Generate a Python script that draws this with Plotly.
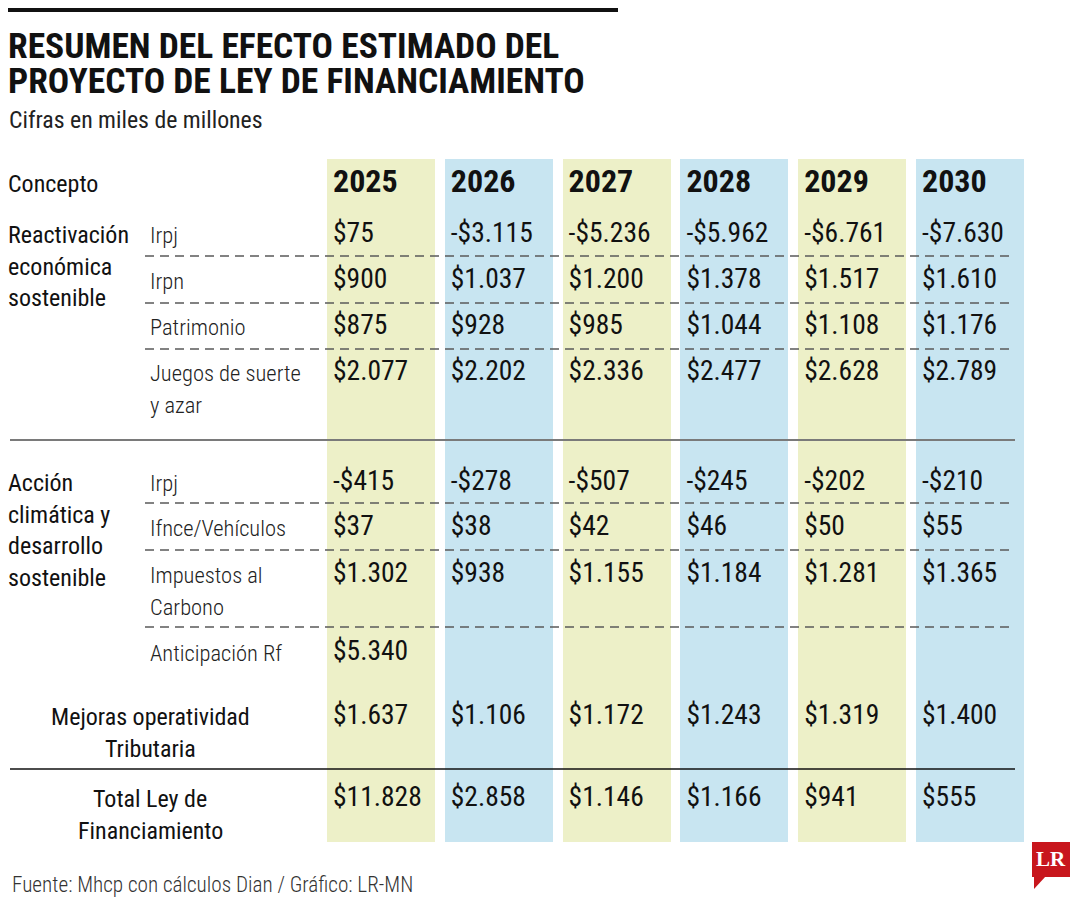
import plotly.graph_objects as go

# ---------------- data ----------------
years = ["2025", "2026", "2027", "2028", "2029", "2030"]

group_labels = ["Reactivación<br>económica<br>sostenible",
                "Acción<br>climática y<br>desarrollo<br>sostenible"]

row_labels = ["Irpj", "Irpn", "Patrimonio", "Juegos de suerte<br>y azar",
              "Irpj", "Ifnce/Vehículos", "Impuestos al<br>Carbono", "Anticipación Rf",
              "Mejoras operatividad<br>Tributaria", "Total Ley de<br>Financiamiento"]

values = [
    ["$75", "-$3.115", "-$5.236", "-$5.962", "-$6.761", "-$7.630"],
    ["$900", "$1.037", "$1.200", "$1.378", "$1.517", "$1.610"],
    ["$875", "$928", "$985", "$1.044", "$1.108", "$1.176"],
    ["$2.077", "$2.202", "$2.336", "$2.477", "$2.628", "$2.789"],
    ["-$415", "-$278", "-$507", "-$245", "-$202", "-$210"],
    ["$37", "$38", "$42", "$46", "$50", "$55"],
    ["$1.302", "$938", "$1.155", "$1.184", "$1.281", "$1.365"],
    ["$5.340", "", "", "", "", ""],
    ["$1.637", "$1.106", "$1.172", "$1.243", "$1.319", "$1.400"],
    ["$11.828", "$2.858", "$1.146", "$1.166", "$941", "$555"],
]

title_lines = ["RESUMEN DEL EFECTO ESTIMADO DEL", "PROYECTO DE LEY DE FINANCIAMIENTO"]
subtitle = "Cifras en miles de millones"
source = "Fuente: Mhcp con cálculos Dian / Gráfico: LR-MN"

# ---------------- layout constants ----------------
W, H = 1080, 900
OFF = 8  # page body margin compensation
FONT = ("Noto Sans ExtraCondensed, Noto Sans Condensed, Roboto Condensed, "
        "Liberation Sans Narrow, DejaVu Sans Condensed, sans-serif")
col_left0, col_step, col_w = 327, 117.8, 108
band_top, band_bottom = 159, 842
band_colors = ["#EDF0C8", "#C8E5F1"]
header_y = 184
row_y = [235, 281, 327, 373, 483, 528, 575, 653, 717, 799]
row_center = [False] * 8 + [True, True]
group_y = [235, 483]
dashed_y = [256, 303, 349, 503, 550, 627]
line_gap = 31.5
VAL = 27.5
LBL = 22.5
GRP = 24

col_lefts = [col_left0 + i * col_step for i in range(len(years))]

fig = go.Figure()

# column bands as bars
fig.add_trace(go.Bar(
    x=[cl + col_w / 2 for cl in col_lefts],
    y=[band_bottom - band_top] * len(years),
    base=[band_top] * len(years),
    width=[col_w] * len(years),
    marker=dict(color=[band_colors[i % 2] for i in range(len(years))], line=dict(width=0)),
    hoverinfo="skip", showlegend=False,
))

# year headers
fig.add_trace(go.Scatter(
    x=[cl + 6 for cl in col_lefts], y=[header_y] * len(years),
    mode="text", text=years, textposition="middle right",
    textfont=dict(family=FONT, size=32, color="#111111", weight="bold"),
    hoverinfo="skip", showlegend=False,
))

# values
vx, vy, vt = [], [], []
for r, row in enumerate(values):
    for c, v in enumerate(row):
        if v:
            vx.append(col_lefts[c] + 6)
            vy.append(row_y[r])
            vt.append(v)
fig.add_trace(go.Scatter(
    x=vx, y=vy, mode="text", text=vt, textposition="middle right",
    textfont=dict(family=FONT, size=VAL, color="#111111"),
    hoverinfo="skip", showlegend=False,
))

annotations = []


def add_text(x, y, text, size, color="#111111", anchor="left", weight="normal", family=FONT):
    xshift = 0
    if x < OFF:
        xshift = x - OFF
        x = OFF
    annotations.append(dict(x=x, y=y, xref="x", yref="y", text=text, showarrow=False,
                            xanchor=anchor, yanchor="middle", align=anchor, xshift=xshift,
                            font=dict(family=family, size=size, color=color, weight=weight)))


# title / subtitle
for i, tl in enumerate(title_lines):
    add_text(6, 46 + i * 35, tl, 35.5, weight="bold")
add_text(7, 120, subtitle, 23.8, color="#222222")
add_text(6, header_y, "Concepto", GRP)

# group labels
for gy, gl in zip(group_y, group_labels):
    for k, part in enumerate(gl.split("<br>")):
        add_text(6, gy + k * line_gap, part, GRP)

# row labels
for lbl, y, ctr in zip(row_labels, row_y, row_center):
    for k, part in enumerate(lbl.split("<br>")):
        if ctr:
            add_text(150, y + k * line_gap, part, GRP, anchor="center")
        else:
            add_text(148, y + k * line_gap, part, LBL, color="#222222", weight=300)

# source
add_text(10, 884, source, 21.2, color="#333333", weight=300)
# LR logo text
add_text(1051, 859, "<b>LR</b>", 21, color="white", anchor="center",
         family="Liberation Serif, DejaVu Serif, serif")

shapes = []
shapes.append(dict(type="rect", xref="x", yref="y", x0=0, x1=618, y0=5, y1=12,
                   fillcolor="#111111", line=dict(width=0)))
for dy in dashed_y:
    shapes.append(dict(type="line", xref="x", yref="y", x0=145, x1=1015, y0=dy, y1=dy,
                       line=dict(color="#5a5a5a", width=1.3, dash="9px,6px")))
shapes.append(dict(type="line", xref="x", yref="y", x0=10, x1=1015, y0=440, y1=440,
                   line=dict(color="#7a7a7a", width=2)))
shapes.append(dict(type="line", xref="x", yref="y", x0=10, x1=1015, y0=769, y1=769,
                   line=dict(color="#111111", width=1.5)))
# LR logo
shapes.append(dict(type="rect", xref="x", yref="y", x0=1032, x1=1070, y0=842, y1=877,
                   fillcolor="#C8161D", line=dict(width=0)))
shapes.append(dict(type="path", xref="x", yref="y", path="M 1034 876 L 1046 876 L 1034 889 Z",
                   fillcolor="#C8161D", line=dict(width=0)))

fig.update_layout(
    width=W, height=H, margin=dict(l=0, r=0, t=0, b=0),
    paper_bgcolor="white", plot_bgcolor="white",
    xaxis=dict(range=[OFF, W + OFF], visible=False, fixedrange=True),
    yaxis=dict(range=[H + OFF, OFF], visible=False, fixedrange=True),
    annotations=annotations, shapes=shapes, bargap=0,
)

fig.write_html("out.html")
